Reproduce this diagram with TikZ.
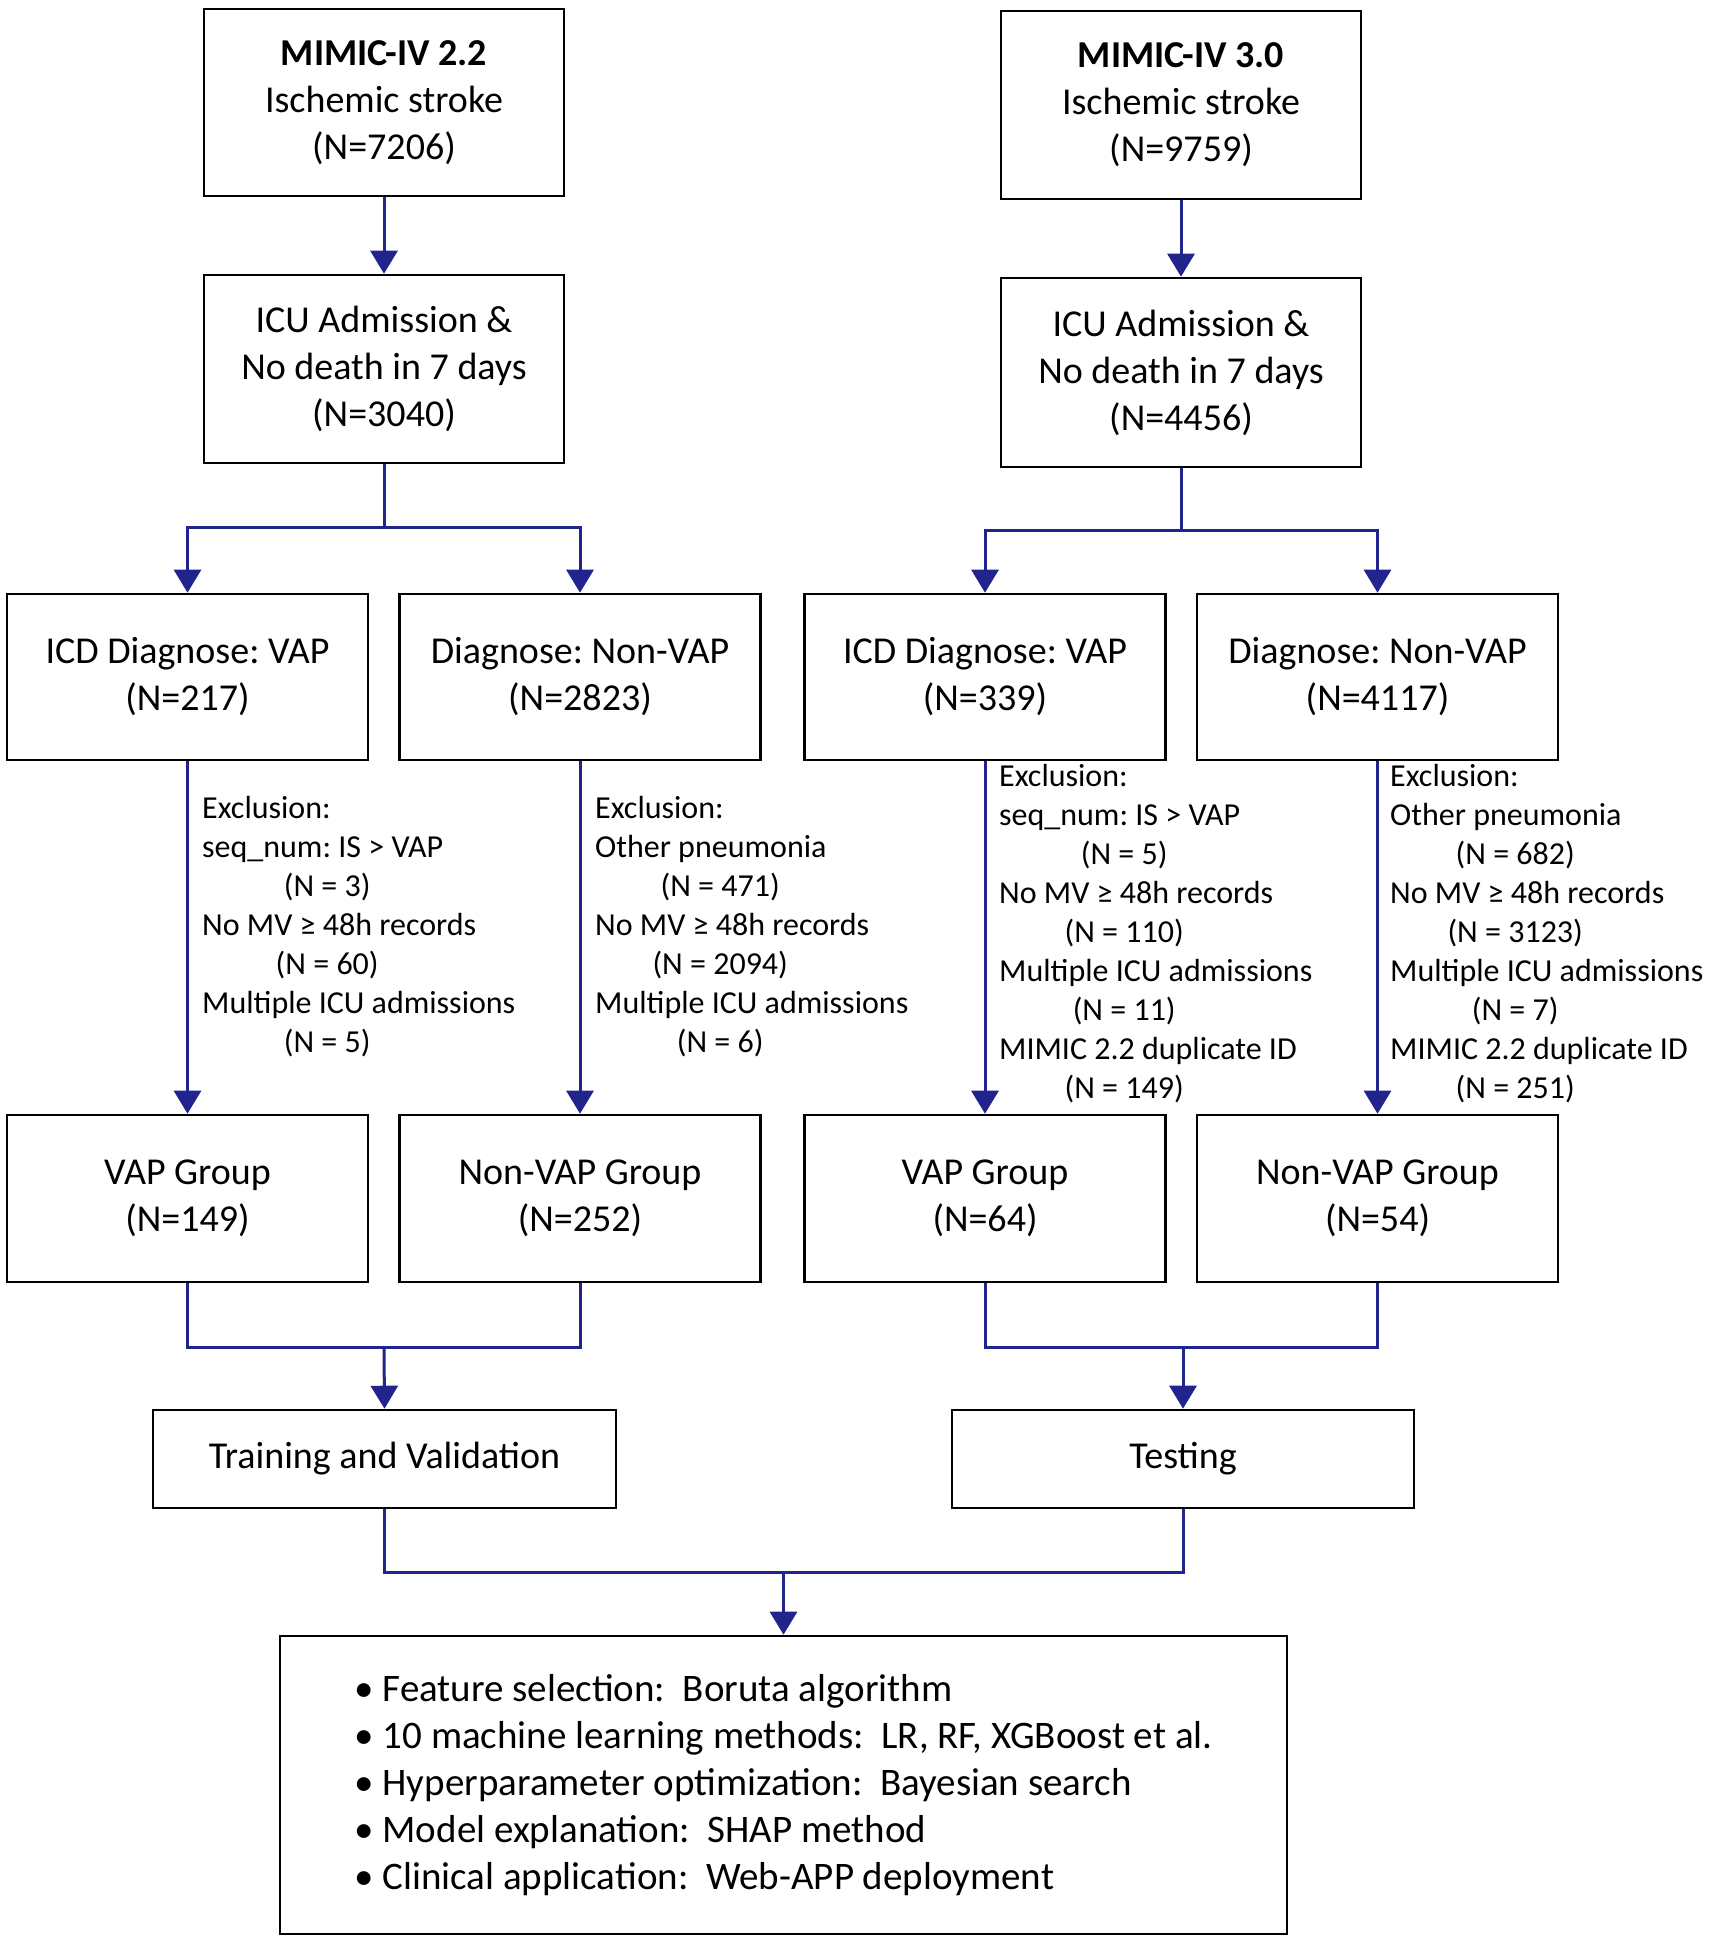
\documentclass[tikz,border=0pt]{standalone}
\usepackage{fontspec}
\setmainfont{Carlito}
\usetikzlibrary{arrows.meta}
\definecolor{arrowblue}{RGB}{32,36,140}
\newcommand\boxfont{\fontsize{38}{47}\selectfont}
\newcommand\listfont{\fontsize{39}{47}\selectfont}
\newcommand\exfont{\fontsize{32}{39}\selectfont}
\newcommand\nn[1]{\makebox[250pt][c]{#1}}
\frenchspacing
\begin{document}
\begin{tikzpicture}[x=1pt,y=-1pt,
  box/.style={draw=black, line width=2.6pt, inner sep=0pt, align=center, font=\boxfont, text=black},
  excl/.style={anchor=west, align=left, inner sep=0pt, font=\exfont, text=black},
  conn/.style={draw=arrowblue, line width=3pt, line join=miter},
  arr/.style={conn, -{Triangle[width=27pt,length=23pt]}}]
\useasboundingbox[fill=white] (0,0) rectangle (1713,1941);

% top boxes
\node[box, minimum width=360pt, minimum height=187pt] (A) at (384,102.5)
  {\textbf{MIMIC-IV 2.2}\\Ischemic stroke\\(N=7206)};
\node[box, minimum width=360pt, minimum height=188pt] (B) at (1181,105)
  {\textbf{MIMIC-IV 3.0}\\Ischemic stroke\\(N=9759)};

\node[box, minimum width=360pt, minimum height=188pt] (icuL) at (384,369)
  {ICU Admission \&\\No death in 7 days\\(N=3040)};
\node[box, minimum width=360pt, minimum height=189pt] (icuR) at (1181,372.5)
  {ICU Admission \&\\No death in 7 days\\(N=4456)};

% diagnose boxes
\node[box, minimum width=361pt, minimum height=166pt] (dL1) at (187.5,677)
  {ICD Diagnose: VAP\\(N=217)};
\node[box, minimum width=361pt, minimum height=166pt] (dL2) at (580,677)
  {Diagnose: Non-VAP\\(N=2823)};
\node[box, minimum width=361pt, minimum height=166pt] (dR1) at (985,677)
  {ICD Diagnose: VAP\\(N=339)};
\node[box, minimum width=361pt, minimum height=166pt] (dR2) at (1377.5,677)
  {Diagnose: Non-VAP\\(N=4117)};

% group boxes
\node[box, minimum width=361pt, minimum height=167pt] (gL1) at (187.5,1198.5)
  {VAP Group\\(N=149)};
\node[box, minimum width=361pt, minimum height=167pt] (gL2) at (580,1198.5)
  {Non-VAP Group\\(N=252)};
\node[box, minimum width=361pt, minimum height=167pt] (gR1) at (985,1198.5)
  {VAP Group\\(N=64)};
\node[box, minimum width=361pt, minimum height=167pt] (gR2) at (1377.5,1198.5)
  {Non-VAP Group\\(N=54)};

% training / testing
\node[box, minimum width=463pt, minimum height=98pt] (train) at (384.5,1459)
  {Training and Validation};
\node[box, minimum width=462pt, minimum height=98pt] (test) at (1183,1459)
  {Testing};

% bottom box
\node[box, align=left, font=\listfont, minimum width=1007pt, minimum height=298pt] (final) at (783.5,1785)
  {• Feature selection:~~Boruta algorithm\\
   • 10 machine learning methods:~~LR, RF, XGBoost et al.\\
   • Hyperparameter optimization:~~Bayesian search\\
   • Model explanation:~~SHAP method\\
   • Clinical application:~~Web-APP deployment};

% exclusion texts
\node[excl] (eL1) at (202,927)
  {Exclusion:\\seq\_num: IS > VAP\\\nn{(N = 3)}\\No MV ≥ 48h records\\\nn{(N = 60)}\\Multiple ICU admissions\\\nn{(N = 5)}};
\node[excl] (eL2) at (595,927)
  {Exclusion:\\Other pneumonia\\\nn{(N = 471)}\\No MV ≥ 48h records\\\nn{(N = 2094)}\\Multiple ICU admissions\\\nn{(N = 6)}};
\node[excl] (eR1) at (999,933.5)
  {Exclusion:\\seq\_num: IS > VAP\\\nn{(N = 5)}\\No MV ≥ 48h records\\\nn{(N = 110)}\\Multiple ICU admissions\\\nn{(N = 11)}\\MIMIC 2.2 duplicate ID\\\nn{(N = 149)}};
\node[excl] (eR2) at (1390,933.5)
  {Exclusion:\\Other pneumonia\\\nn{(N = 682)}\\No MV ≥ 48h records\\\nn{(N = 3123)}\\Multiple ICU admissions\\\nn{(N = 7)}\\MIMIC 2.2 duplicate ID\\\nn{(N = 251)}};

% junction coordinates
\coordinate (sL) at (384,527);
\coordinate (sR) at (1181,530);
\coordinate (mL) at (384,1347);
\coordinate (mR) at (1183,1347);
\coordinate (mF) at (783.5,1572);

% connectors
\draw[arr] (A) -- (icuL);
\draw[arr] (B) -- (icuR);
\draw[conn] (icuL.south) -- (sL);
\draw[arr] (sL) -| (dL1.north);
\draw[arr] (sL) -| (dL2.north);
\draw[conn] (icuR.south) -- (sR);
\draw[arr] (sR) -| (dR1.north);
\draw[arr] (sR) -| (dR2.north);

\draw[arr] (dL1) -- (gL1);
\draw[arr] (dL2) -- (gL2);
\draw[arr] (dR1) -- (gR1);
\draw[arr] (dR2) -- (gR2);

\draw[conn] (gL1.south) |- (mL) -| (gL2.south);
\draw[arr] (mL) -- (train.north);
\draw[conn] (gR1.south) |- (mR) -| (gR2.south);
\draw[arr] (mR) -- (test.north);

\draw[conn] (train.south) |- (mF) -| (test.south);
\draw[arr] (mF) -- (final.north);
\end{tikzpicture}
\end{document}
